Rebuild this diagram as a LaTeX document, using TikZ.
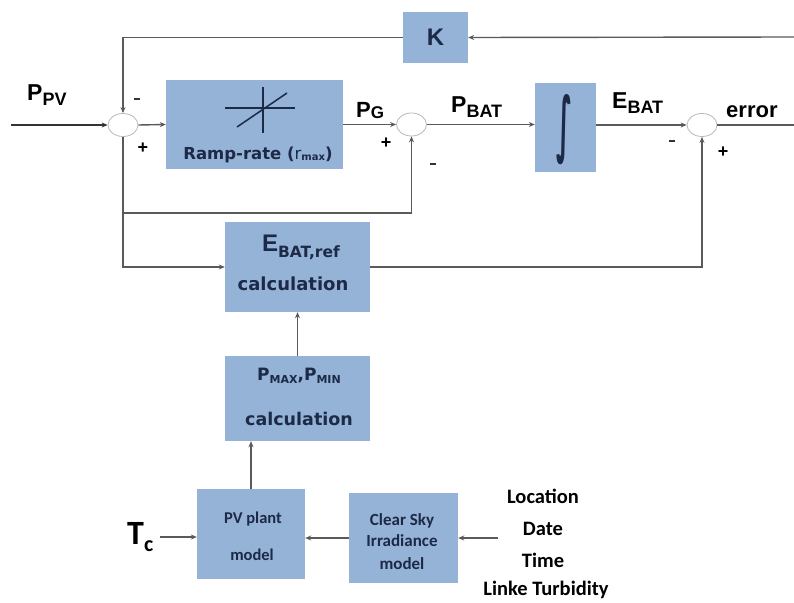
\documentclass[tikz,border=0pt]{standalone}
\usepackage{fontspec}
\usepackage{graphicx}
\setmainfont{Liberation Sans}
\newfontfamily\dvs{DejaVu Sans}
\newfontfamily\carl{Carlito}
\usetikzlibrary{shapes.geometric,arrows.meta}
\definecolor{boxblue}{HTML}{95B3D7}
\definecolor{navy}{HTML}{1C2A48}
\definecolor{wireg}{HTML}{5A5A5A}
\newcommand\fs[1]{\fontsize{#1}{#1}\selectfont}
\begin{document}
\begin{tikzpicture}[x=1pt,y=-1pt,
  blk/.style={fill=boxblue, inner sep=0pt, text=navy},
  sumj/.style={ellipse, draw=gray!55, line width=0.8pt, fill=white, minimum width=30pt, minimum height=23pt, inner sep=0pt},
  wire/.style={draw=wireg, line width=1.4pt},
  arr/.style={wire, -{Stealth[length=6pt,width=5pt]}},
  lbl/.style={anchor=base west, inner sep=0pt, font=\bfseries},
  boxtxt/.style={anchor=base, inner sep=0pt, text=navy, font=\dvs\bfseries},
  cbtxt/.style={anchor=base, inner sep=0pt, text=navy, font=\carl\bfseries},
  loctxt/.style={anchor=base, inner sep=0pt, font=\carl\bfseries\fs{20.5}},
  sgn/.style={inner sep=0pt, font=\bfseries\fs{18}},
  minus/.style={fill=black!80, minimum width=6pt, minimum height=2.6pt, inner sep=0pt}
]
\useasboundingbox (0,0) rectangle (794,602);
\fill[white] (0,0) rectangle (794,602);

% blocks
\node[blk, minimum width=65pt, minimum height=51pt, font=\bfseries\fs{24}] (K) at (435.5,37.5) {K};
\node[blk, minimum width=177pt, minimum height=89pt] (ramp) at (254.5,124.5) {};
\node[blk, minimum width=61pt, minimum height=89pt] (int) at (565.5,127.5) {};
\node[blk, minimum width=145pt, minimum height=90pt] (eref) at (297.5,267) {};
\node[blk, minimum width=145pt, minimum height=85pt] (pmax) at (297.5,398.5) {};
\node[blk, minimum width=108pt, minimum height=90pt] (pv) at (251,534) {};
\node[blk, minimum width=109pt, minimum height=90pt] (cs) at (403.5,538) {};

% summing junctions
\node[sumj] (s1) at (123,125) {};
\node[sumj] (s2) at (411.5,124.5) {};
\node[sumj] (s3) at (702,125) {};

% block contents
\draw[navy, line width=1.5pt] (225,108) -- (295,108);
\draw[navy, line width=1.5pt] (263,87) -- (263,133);
\draw[navy, line width=1.5pt] (237,127) -- (287,93);
\node[boxtxt, font=\dvs\bfseries\fs{16.5}] (rampT) at (258,159) {Ramp-rate ({\mdseries r}{\fs{10}\raisebox{-1pt}{max}})};
\node[inner sep=0pt, text=navy] (intT) at (564,130) {\resizebox{16pt}{54pt}{\dvs\bfseries ∫}};
\node[boxtxt] (erefT1) at (301,251) {{\rmfamily\bfseries\fs{24}E}{\fs{15.5}\raisebox{-6pt}{BAT,ref}}};
\node[boxtxt, font=\dvs\bfseries\fs{18}] (erefT2) at (293,290) {calculation};
\node[boxtxt] (pmaxT1) at (299,380) {\fs{17}P{\fs{11}\raisebox{-3pt}{MAX}},P{\fs{11}\raisebox{-3pt}{MIN}}};
\node[boxtxt, font=\dvs\bfseries\fs{17.5}] (pmaxT2) at (299,425) {calculation};
\node[cbtxt, font=\carl\bfseries\fs{16.5}] (pvT1) at (253,523) {PV plant};
\node[cbtxt, font=\carl\bfseries\fs{16.5}] (pvT2) at (252,560) {model};
\node[cbtxt, font=\carl\bfseries\fs{17}] (csT1) at (402,525) {Clear Sky};
\node[cbtxt, font=\carl\bfseries\fs{17}] (csT2) at (402,546) {Irradiance};
\node[cbtxt, font=\carl\bfseries\fs{17}] (csT3) at (402,569) {model};

% external labels
\node[lbl] (ppv) at (27,100) {\fs{23}P\fs{18}\raisebox{-5pt}{PV}};
\node[lbl] (pg) at (356,117) {\fs{22}P\fs{17}\raisebox{-1pt}{G}};
\node[lbl] (pbat) at (451,112) {\fs{23}P\fs{18}\raisebox{-5pt}{BAT}};
\node[lbl] (ebat) at (612,108) {\fs{23}E\fs{18}\raisebox{-5pt}{BAT}};
\node[lbl] (err) at (726,117) {\fs{22}error};
\node[lbl, font=\carl\bfseries] (tc) at (127,544) {\fs{34}T\fs{22}\raisebox{-7pt}{c}};
\node[loctxt] (loc1) at (543,503) {Location};
\node[loctxt] (loc2) at (543,535) {Date};
\node[loctxt] (loc3) at (543,567) {Time};
\node[loctxt] (loc4) at (546,595) {Linke Turbidity};

% signs
\node[minus] (m1) at (137,99) {};
\node[sgn] (p1) at (143,148) {+};
\node[sgn] (p2) at (386,143) {+};
\node[minus] (m2) at (433,164) {};
\node[minus] (m3) at (672,141) {};
\node[sgn] (p3) at (723,152) {+};

% free ends
\coordinate (ppvin) at (11,125);
\coordinate (errout) at (794,125);
\coordinate (rtop) at (794,37);
\coordinate (tcin) at (160,537);
\coordinate (locin) at (498,538);

% connectors
\draw[arr, draw=black!80, line width=2pt] (ppvin) -- (s1.west);
\draw[arr] (s1.east) -- (ramp.west);
\draw[arr] (ramp.east) -- (s2.west);
\draw[arr] (s2.east) -- (s2.east -| int.west);
\draw[arr] (int.east |- s3.west) -- (s3.west);
\draw[wire] (s3.east) -- (errout);
\draw[arr] (rtop) -- (K.east);
\draw[arr] (K.west) -| (s1.north);
\draw[arr] (s1.south) -- (s1.south |- 0,213) -| (s2.south);
\draw[arr] (s1.south |- 0,213) |- (eref.west);
\draw[arr] (eref.east) -| (s3.south);
\draw[arr] (pmax.north) -- (eref.south);
\draw[arr] (pv.north) -- (pv.north |- pmax.south);
\draw[arr] (tcin) -- (tcin -| pv.west);
\draw[arr] (cs.west) -- (cs.west -| pv.east);
\draw[arr] (locin) -- (locin -| cs.east);
\end{tikzpicture}
\end{document}
